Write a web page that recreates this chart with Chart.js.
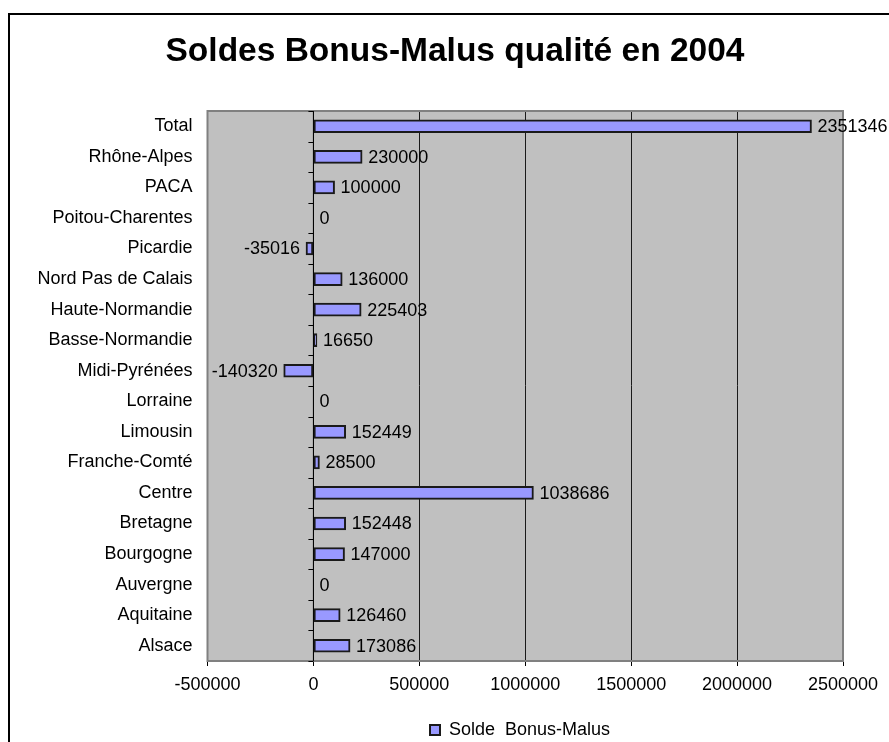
<!DOCTYPE html>
<html>
<head>
<meta charset="utf-8">
<script src="https://cdn.jsdelivr.net/npm/chart.js@4.4.1/dist/chart.umd.min.js"></script>
<style>
  body { margin: 0; background: #fff; }
</style>
</head>
<body>
<canvas id="bonusChart" width="889" height="742"></canvas>
<script>
// données
const regions = ['Total', 'Rhône-Alpes', 'PACA', 'Poitou-Charentes', 'Picardie',
    'Nord Pas de Calais', 'Haute-Normandie', 'Basse-Normandie', 'Midi-Pyrénées',
    'Lorraine', 'Limousin', 'Franche-Comté', 'Centre', 'Bretagne', 'Bourgogne',
    'Auvergne', 'Aquitaine', 'Alsace'];
const soldes = [2351346, 230000, 100000, 0, -35016, 136000, 225403, 16650, -140320,
    0, 152449, 28500, 1038686, 152448, 147000, 0, 126460, 173086];
const xTicks = [-500000, 0, 500000, 1000000, 1500000, 2000000, 2500000];
const serieName = 'Solde  Bonus-Malus';

const FONT = "'Liberation Sans', Arial, sans-serif";

// fond, cadre et étiquettes
const decor = {
    id: 'decor',
    beforeDraw(chart) {
        const { ctx, chartArea: a } = chart;
        ctx.save();
        ctx.fillStyle = '#fff';
        ctx.fillRect(0, 0, chart.width, chart.height);
        ctx.fillStyle = '#c0c0c0';
        ctx.fillRect(a.left, a.top, a.right - a.left, a.bottom - a.top);
        ctx.restore();
    },
    beforeDatasetsDraw(chart) {
        const { ctx, chartArea: a, scales } = chart;
        ctx.save();
        ctx.strokeStyle = '#808080';
        ctx.lineWidth = 2;
        ctx.strokeRect(a.left, a.top, a.right - a.left, a.bottom - a.top);
        // petites graduations sur l'axe des catégories (à zéro)
        const x0 = scales.x.getPixelForValue(0);
        ctx.strokeStyle = '#000';
        ctx.lineWidth = 1;
        ctx.beginPath();
        for (let i = 0; i <= regions.length; i++) {
            const y = Math.round(scales.y.getPixelForValue(i - 0.5)) + 0.5;
            ctx.moveTo(x0 - 5, y);
            ctx.lineTo(x0, y);
        }
        ctx.stroke();
        ctx.beginPath();
        ctx.moveTo(x0, a.top);
        ctx.lineTo(x0, a.bottom);
        ctx.stroke();
        ctx.restore();
    },
    afterDatasetsDraw(chart) {
        const { ctx } = chart;
        const meta = chart.getDatasetMeta(0);
        ctx.save();
        ctx.font = '18px ' + FONT;
        ctx.fillStyle = '#000';
        ctx.textBaseline = 'middle';
        meta.data.forEach((bar, i) => {
            const v = soldes[i];
            if (v < 0) {
                ctx.textAlign = 'right';
                ctx.fillText(String(v), bar.x - 6, bar.y + 1);
            } else {
                ctx.textAlign = 'left';
                ctx.fillText(String(v), bar.x + 6, bar.y + 1);
            }
        });
        ctx.restore();
    },
    afterLayout(chart) {
        // place la légende et le titre comme dans l'original
        const lg = chart.legend;
        if (lg && lg.lineWidths) {
            const pad = lg.options.labels.padding;
            const start = (lg.left + pad + lg.right - lg.lineWidths[0]) / 2;
            const dx = 430 - start;
            lg.left += dx; lg.right += dx;
            lg.top += 7; lg.bottom += 7;
        }
        const tb = chart.titleBlock;
        if (tb) {
            const dx = 455 - (tb.left + tb.right) / 2;
            tb.left += dx; tb.right += dx;
        }
    },
    afterDraw(chart) {
        const { ctx } = chart;
        ctx.save();
        ctx.strokeStyle = '#000';
        ctx.lineWidth = 2;
        ctx.strokeRect(9, 14, 1000, 1000);
        ctx.restore();
    }
};

new Chart(document.getElementById('bonusChart'), {
    type: 'bar',
    data: {
        labels: regions,
        datasets: [{
            label: serieName,
            data: soldes,
            backgroundColor: '#9999ff',
            borderColor: '#1a1a1a',
            borderWidth: 2,
            borderSkipped: false,
            barThickness: 13
        }]
    },
    options: {
        indexAxis: 'y',
        responsive: false,
        animation: false,
        layout: { padding: { left: 0, right: 46, top: 0, bottom: 0 } },
        scales: {
            x: {
                min: -500000,
                max: 2500000,
                afterBuildTicks(scale) {
                    scale.ticks = xTicks.map(v => ({ value: v }));
                },
                afterFit(scale) { scale.height = 49; },
                ticks: {
                    color: '#000',
                    font: { size: 18, family: FONT },
                    padding: 8,
                    maxRotation: 0,
                    callback: v => String(v)
                },
                grid: {
                    color: ctx => (ctx.tick && (ctx.tick.value === -500000 || ctx.tick.value === 2500000)) ? '#808080' : '#1a1a1a',
                    lineWidth: 1,
                    tickLength: 5,
                    tickColor: '#000'
                },
                border: { display: true, color: '#1a1a1a', width: 1.5 }
            },
            y: {
                afterFit(scale) { scale.width = 207.5; },
                ticks: {
                    color: '#000',
                    font: { size: 18, family: FONT },
                    padding: 15,
                    autoSkip: false
                },
                grid: { display: false, drawTicks: false },
                border: { display: false }
            }
        },
        plugins: {
            title: {
                display: true,
                text: 'Soldes Bonus-Malus qualité en 2004',
                color: '#000',
                font: { size: 33.5, weight: 'bold', family: FONT },
                padding: { top: 32, bottom: 38.8 }
            },
            legend: {
                position: 'bottom',
                labels: {
                    color: '#000',
                    font: { size: 18, family: FONT },
                    boxWidth: 10,
                    boxHeight: 10,
                    padding: 4
                }
            },
            tooltip: { enabled: false }
        }
    },
    plugins: [decor]
});
</script>
</body>
</html>
